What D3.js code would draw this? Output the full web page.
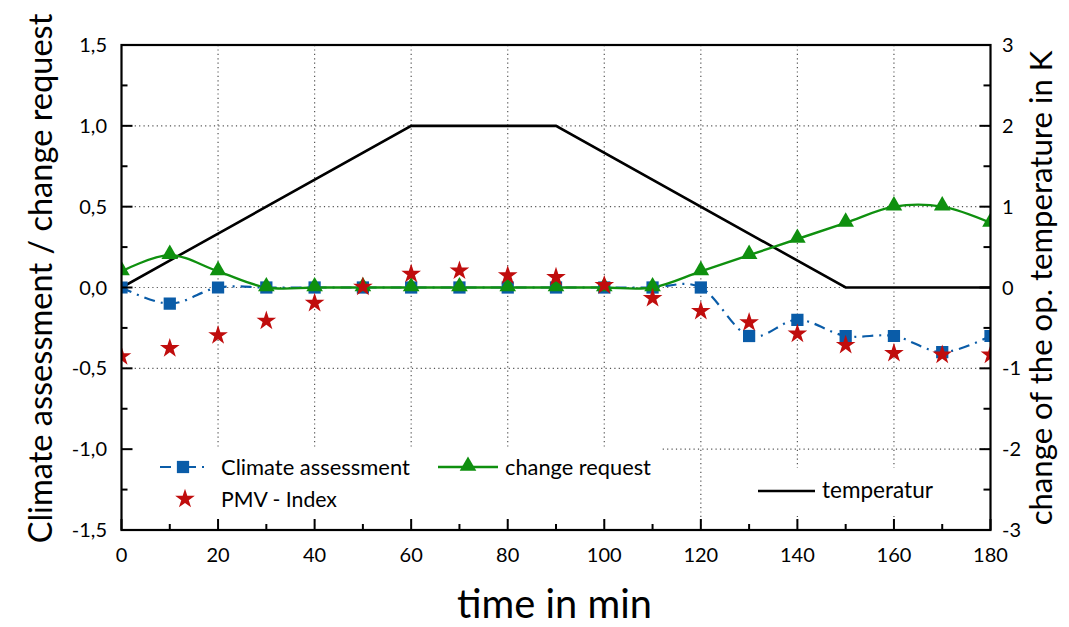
<!DOCTYPE html>
<html>
<head>
<meta charset="utf-8">
<script src="https://cdn.jsdelivr.net/npm/d3@7/dist/d3.min.js"></script>
<style>
  html, body { margin: 0; padding: 0; background: #fff; }
  svg { display: block; }
  text { font-family: Lato, "Liberation Sans", sans-serif; fill: #000; }
</style>
</head>
<body>
<svg id="chart" width="1069" height="627"></svg>
<script>
// ---------- data ----------
const times = [0,10,20,30,40,50,60,70,80,90,100,110,120,130,140,150,160,170,180];
const climateAssessment = [0,-0.1,0,0,0,0,0,0,0,0,0,0,0,-0.3,-0.2,-0.3,-0.3,-0.4,-0.3];
const changeRequest = [0.1,0.2,0.1,0,0,0,0,0,0,0,0,0,0.1,0.2,0.3,0.4,0.5,0.5,0.4];
const pmvIndex = [-0.42,-0.37,-0.29,-0.2,-0.09,0.01,0.09,0.11,0.08,0.07,0.02,-0.06,-0.14,-0.21,-0.28,-0.35,-0.4,-0.41,-0.41];
const tempTimes = [0,60,90,150,180];
const temperature = [0,2,2,0,0];
const xTicks = [0,20,40,60,80,100,120,140,160,180];
const yLeftTicks = [-1.5,-1,-0.5,0,0.5,1,1.5];
const yLeftTickLabels = ["-1,5","-1,0","-0,5","0,0","0,5","1,0","1,5"];
const yRightTicks = [-3,-2,-1,0,1,2,3];
const seriesNames = ["Climate assessment","change request","PMV - Index","temperatur"];

// ---------- layout ----------
const L = 121.5, R = 990.5, T = 45, B = 530;
const svg = d3.select("#chart");
const x = d3.scaleLinear().domain([0,180]).range([L,R]);
const yL = d3.scaleLinear().domain([-1.5,1.5]).range([B,T]);
const yR = d3.scaleLinear().domain([-3,3]).range([B,T]);

const BLUE = "#0a5ca8", GREEN = "#0f900f", RED = "#c00d0d";

// grid
const grid = svg.append("g").attr("stroke", "#555").attr("stroke-width", 1.2).attr("stroke-dasharray", "1.2,3.2");
grid.selectAll(".gx").data(xTicks.filter(d => d > 0 && d < 180)).enter().append("line")
  .attr("x1", d => x(d)).attr("x2", d => x(d)).attr("y1", T).attr("y2", B);
grid.selectAll(".gy").data(yLeftTicks.filter(d => d > -1.5 && d < 1.5)).enter().append("line")
  .attr("y1", d => yL(d)).attr("y2", d => yL(d)).attr("x1", L).attr("x2", R);

// clip
svg.append("defs").append("clipPath").attr("id","clip").append("rect")
  .attr("x", L).attr("y", T).attr("width", R-L).attr("height", B-T);
const plot = svg.append("g").attr("clip-path","url(#clip)");

const curve = d3.curveCardinal.tension(0);
// temperature
plot.append("path").datum(tempTimes.map((t,i)=>[t,temperature[i]]))
  .attr("fill","none").attr("stroke","#000").attr("stroke-width",2.6)
  .attr("d", d3.line().x(d=>x(d[0])).y(d=>yR(d[1])));
// climate assessment line
plot.append("path").datum(times.map((t,i)=>[t,climateAssessment[i]]))
  .attr("fill","none").attr("stroke",BLUE).attr("stroke-width",2.2)
  .attr("stroke-dasharray","11,6,2,6")
  .attr("d", d3.line().curve(curve).x(d=>x(d[0])).y(d=>yL(d[1])));
// change request line
plot.append("path").datum(times.map((t,i)=>[t,changeRequest[i]]))
  .attr("fill","none").attr("stroke",GREEN).attr("stroke-width",2.4)
  .attr("d", d3.line().curve(curve).x(d=>x(d[0])).y(d=>yL(d[1])));

const sq = d3.symbol().type(d3.symbolSquare).size(150);
const tri = d3.symbol().type(d3.symbolTriangle).size(120);
const star = d3.symbol().type(d3.symbolStar).size(120);

plot.selectAll(".sq").data(times).enter().append("path")
  .attr("d", sq).attr("fill", BLUE)
  .attr("transform",(d,i)=>`translate(${x(d)},${yL(climateAssessment[i])})`);
plot.selectAll(".tri").data(times).enter().append("path")
  .attr("d", tri).attr("fill", GREEN)
  .attr("transform",(d,i)=>`translate(${x(d)},${yL(changeRequest[i])-1})`);
plot.selectAll(".star").data(times).enter().append("path")
  .attr("d", star).attr("fill", RED)
  .attr("transform",(d,i)=>`translate(${x(d)},${yL(pmvIndex[i])+1})`);

// legend boxes
svg.append("rect").attr("x",125).attr("y",447).attr("width",535).attr("height",71).attr("fill","#fff");
svg.append("rect").attr("x",745).attr("y",468).attr("width",215).attr("height",48).attr("fill","#fff");

function fitText(sel, w) {
  let fs = parseFloat(sel.attr("font-size"));
  const cur = sel.node().getComputedTextLength();
  sel.attr("font-size", fs * w / cur);
}

// legend entries
const lg = svg.append("g");
lg.append("line").attr("x1",157).attr("x2",210).attr("y1",467).attr("y2",467)
  .attr("stroke",BLUE).attr("stroke-width",2.2).attr("stroke-dasharray","11,6,2,6").attr("stroke-dashoffset",-3);
lg.append("path").attr("d",sq).attr("fill",BLUE).attr("transform","translate(183,467)");
fitText(lg.append("text").attr("x",221).attr("y",475).attr("font-size",21).text(seriesNames[0]), 189);

lg.append("line").attr("x1",438).attr("x2",498).attr("y1",467).attr("y2",467)
  .attr("stroke",GREEN).attr("stroke-width",2.4);
lg.append("path").attr("d",tri).attr("fill",GREEN).attr("transform","translate(468,466)");
fitText(lg.append("text").attr("x",505).attr("y",475).attr("font-size",21).text(seriesNames[1]), 146);

lg.append("path").attr("d",star).attr("fill",RED).attr("transform","translate(185,499)");
fitText(lg.append("text").attr("x",221).attr("y",507).attr("font-size",21).text(seriesNames[2]), 116);

lg.append("line").attr("x1",758).attr("x2",815).attr("y1",491).attr("y2",491)
  .attr("stroke","#000").attr("stroke-width",2.6);
fitText(lg.append("text").attr("x",822).attr("y",498).attr("font-size",21).text(seriesNames[3]), 111);

// axes
const frame = svg.append("g");
const gB = frame.append("g").attr("transform",`translate(0,${B})`);
const xMinor = d3.range(0,181,10);
gB.selectAll(".t").data(xMinor).enter().append("line")
  .attr("x1",d=>x(d)).attr("x2",d=>x(d)).attr("y1",0).attr("y2",d=> d%20===0 ? -11 : -6)
  .attr("stroke","#000").attr("stroke-width",2);
gB.selectAll(".lbl").data(xTicks).enter().append("text")
  .attr("x",d=>x(d)).attr("y",32).attr("text-anchor","middle").attr("font-size",20).text(d=>d);
// left ticks
const gL = frame.append("g");
gL.selectAll(".t").data(d3.range(-1.5,1.51,0.25)).enter().append("line")
  .attr("x1",L).attr("x2",(d,i)=> L + (i%2===0 ? 11 : 6)).attr("y1",d=>yL(d)).attr("y2",d=>yL(d))
  .attr("stroke","#000").attr("stroke-width",2);
gL.selectAll(".lbl").data(yLeftTicks).enter().append("text")
  .attr("x",107).attr("y",d=>yL(d)+7).attr("text-anchor","end").attr("font-size",20)
  .text((d,i)=>yLeftTickLabels[i]);
// right ticks
const gR = frame.append("g");
gR.selectAll(".t").data(d3.range(-3,3.01,0.5)).enter().append("line")
  .attr("x1",R).attr("x2",(d,i)=> R - (i%2===0 ? 11 : 7)).attr("y1",d=>yR(d)).attr("y2",d=>yR(d))
  .attr("stroke","#000").attr("stroke-width",2);
gR.selectAll(".lbl").data(yRightTicks).enter().append("text")
  .attr("x",1002).attr("y",d=>yR(d)+7).attr("text-anchor","start").attr("font-size",20).text(d=>d);
// frame
frame.append("rect").attr("x",L).attr("y",T).attr("width",R-L).attr("height",B-T)
  .attr("fill","none").attr("stroke","#000").attr("stroke-width",2.2);

// titles
fitText(svg.append("text").attr("x",554.5).attr("y",618).attr("text-anchor","middle")
  .attr("font-size",36).text("time in min"), 195);
fitText(svg.append("text").attr("transform","translate(52,278.5) rotate(-90)").attr("text-anchor","middle")
  .attr("font-size",28).text("Climate assessment / change request"), 530);
fitText(svg.append("text").attr("transform","translate(1052,288) rotate(-90)").attr("text-anchor","middle")
  .attr("font-size",28).text("change of the op. temperature in K"), 475);
</script>
</body>
</html>
